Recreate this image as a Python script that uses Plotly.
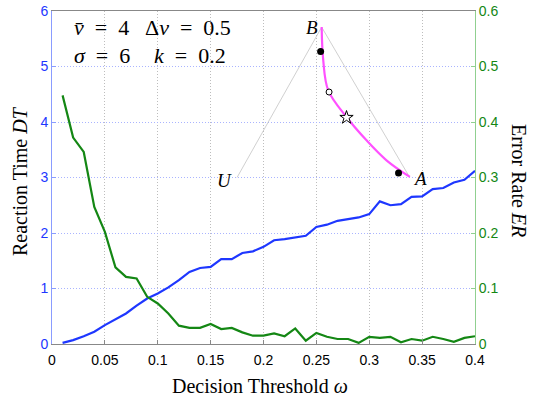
import plotly.graph_objects as go

# Decision threshold omega
omega = [0.01, 0.02, 0.03, 0.04, 0.05, 0.06, 0.07, 0.08, 0.09, 0.10,
         0.11, 0.12, 0.13, 0.14, 0.15, 0.16, 0.17, 0.18, 0.19, 0.20,
         0.21, 0.22, 0.23, 0.24, 0.25, 0.26, 0.27, 0.28, 0.29, 0.30,
         0.31, 0.32, 0.33, 0.34, 0.35, 0.36, 0.37, 0.38, 0.39, 0.40]
# Reaction time DT (left axis)
dt = [0.02, 0.07, 0.14, 0.22, 0.34, 0.45, 0.55, 0.69, 0.82, 0.91,
      1.02, 1.15, 1.30, 1.37, 1.39, 1.53, 1.53, 1.64, 1.67, 1.75,
      1.87, 1.89, 1.92, 1.95, 2.11, 2.15, 2.22, 2.25, 2.28, 2.34,
      2.57, 2.50, 2.52, 2.65, 2.66, 2.79, 2.81, 2.91, 2.96, 3.12]
# Error rate ER (right axis)
er = [0.448, 0.372, 0.346, 0.247, 0.202, 0.138, 0.121, 0.118, 0.085, 0.073,
      0.055, 0.033, 0.029, 0.029, 0.036, 0.027, 0.029, 0.021, 0.015, 0.015,
      0.019, 0.014, 0.028, 0.006, 0.020, 0.013, 0.009, 0.009, 0.002, 0.013,
      0.011, 0.013, 0.003, 0.009, 0.006, 0.013, 0.009, 0.004, 0.011, 0.014]

# Inset triangle U-B-A (drawn in the main axes' coordinates)
tri_x = [0.175, 0.255, 0.338]
tri_y = [3.00, 5.71, 3.01]
tri_labels = ["U", "B", "A"]
# Magenta curve from B to A
curve_x = [0.255, 0.2565, 0.2612, 0.2785, 0.2974, 0.3163, 0.3384]
curve_y = [5.71, 5.11, 4.57, 4.09, 3.67, 3.31, 3.01]
# Markers on the curve
dot_x = [0.254, 0.3277]
dot_y = [5.27, 3.08]
circ_x = [0.262]
circ_y = [4.54]
star_x = [0.2785]
star_y = [4.08]

BLUE = "rgb(30,55,255)"
GREEN = "rgb(20,135,20)"
SERIF = "Liberation Serif"
SANS = "Liberation Sans"
EN = "\u2002"

fig = go.Figure()

fig.add_trace(go.Scatter(x=[tri_x[0], tri_x[1], tri_x[2]], y=[tri_y[0], tri_y[1], tri_y[2]],
                         mode="lines", line=dict(color="#bbbbbb", width=0.7),
                         showlegend=False, hoverinfo="skip"))
fig.add_trace(go.Scatter(x=curve_x, y=curve_y, mode="lines", line_shape="spline",
                         line=dict(color="rgb(255,80,255)", width=2.2),
                         showlegend=False))
fig.add_trace(go.Scatter(x=dot_x, y=dot_y, mode="markers",
                         marker=dict(color="black", size=7), showlegend=False))
fig.add_trace(go.Scatter(x=circ_x, y=circ_y, mode="markers",
                         marker=dict(color="white", size=6, symbol="circle",
                                     line=dict(color="black", width=1)), showlegend=False))
fig.add_trace(go.Scatter(x=star_x, y=star_y, mode="markers",
                         marker=dict(color="white", size=10, symbol="star",
                                     line=dict(color="black", width=1)), showlegend=False))

fig.add_trace(go.Scatter(x=omega, y=dt, mode="lines",
                         line=dict(color=BLUE, width=2.2), showlegend=False))
fig.add_trace(go.Scatter(x=omega, y=er, mode="lines", yaxis="y2",
                         line=dict(color=GREEN, width=2.2), showlegend=False))

# Triangle vertex labels
offsets = [(-13, -3), (-10, 0), (11, -2)]
for lx, ly, lab, (dx, dy) in zip(tri_x, tri_y, tri_labels, offsets):
    fig.add_annotation(x=lx, y=ly, text=f"<i>{lab}</i>", showarrow=False,
                       xshift=dx, yshift=dy, xanchor="center", yanchor="middle",
                       font=dict(family=SERIF, size=19, color="black"))

# Parameter text (paper coordinates: plot spans 52..475 px horizontally, 11..344 px vertically)
def px_x(p):
    return (p - 52) / 423.0

def px_y(p):
    return (344 - p) / 333.0

params = [
    (72, 28, f"<i>v̄</i>{EN}={EN}4"),
    (143, 28, f"Δ<i>v</i>{EN}={EN}0.5"),
    (72, 55, f"<i>σ</i>{EN}={EN}6"),
    (152, 55, f"<i>k</i>{EN}={EN}0.2"),
]
for px, py, txt in params:
    fig.add_annotation(xref="paper", yref="paper", x=px_x(px), y=px_y(py),
                       xanchor="left", yanchor="middle", text=txt, showarrow=False,
                       font=dict(family=SERIF, size=22, color="black"))

# Axis titles
fig.add_annotation(xref="paper", yref="paper", x=px_x(20), y=px_y(181), textangle=-90,
                   xanchor="center", yanchor="middle",
                   text="Reaction Time <i>DT</i>", showarrow=False,
                   font=dict(family=SERIF, size=20, color="black"))
fig.add_annotation(xref="paper", yref="paper", x=px_x(519), y=px_y(180), textangle=90,
                   xanchor="center", yanchor="middle",
                   text="Error Rate <i>ER</i>", showarrow=False,
                   font=dict(family=SERIF, size=20, color="black"))
fig.add_annotation(xref="paper", yref="paper", x=px_x(260), y=px_y(386),
                   xanchor="center", yanchor="middle",
                   text="Decision Threshold <i>ω</i>", showarrow=False,
                   font=dict(family=SERIF, size=20, color="black"))

fig.update_layout(
    width=544, height=400,
    margin=dict(l=52, r=69, t=11, b=56, autoexpand=False),
    paper_bgcolor="white", plot_bgcolor="white",
    xaxis=dict(range=[0, 0.4], tickvals=[0, 0.05, 0.1, 0.15, 0.2, 0.25, 0.3, 0.35, 0.4],
               ticktext=["0", "0.05", "0.1", "0.15", "0.2", "0.25", "0.3", "0.35", "0.4"],
               showgrid=True, gridcolor="#bdbdbd", griddash="1px,2px", gridwidth=1,
               showline=True, linecolor="#888888", linewidth=1, mirror=True,
               ticks="inside", ticklen=4, tickcolor="#888888", automargin=False,
               ticklabelstandoff=3,
               tickfont=dict(family=SANS, size=14, color="black"), zeroline=False),
    yaxis=dict(range=[0, 6], tickvals=[0, 1, 2, 3, 4, 5, 6],
               showgrid=True, gridcolor="#aab4ff", griddash="1px,2px", gridwidth=1,
               showline=True, linecolor="#8a9cff", linewidth=1,
               ticks="inside", ticklen=4, tickcolor="#8a9cff", automargin=False,
               tickfont=dict(family=SANS, size=14, color=BLUE), zeroline=False),
    yaxis2=dict(range=[0, 0.6], tickvals=[0, 0.1, 0.2, 0.3, 0.4, 0.5, 0.6],
                ticktext=["0", "0.1", "0.2", "0.3", "0.4", "0.5", "0.6"],
                overlaying="y", side="right", showgrid=False,
                showline=True, linecolor="#90d090", linewidth=1,
                ticks="inside", ticklen=4, tickcolor="#90d090", automargin=False,
                tickfont=dict(family=SANS, size=14, color=GREEN), zeroline=False),
)

fig.write_html("out.html")
